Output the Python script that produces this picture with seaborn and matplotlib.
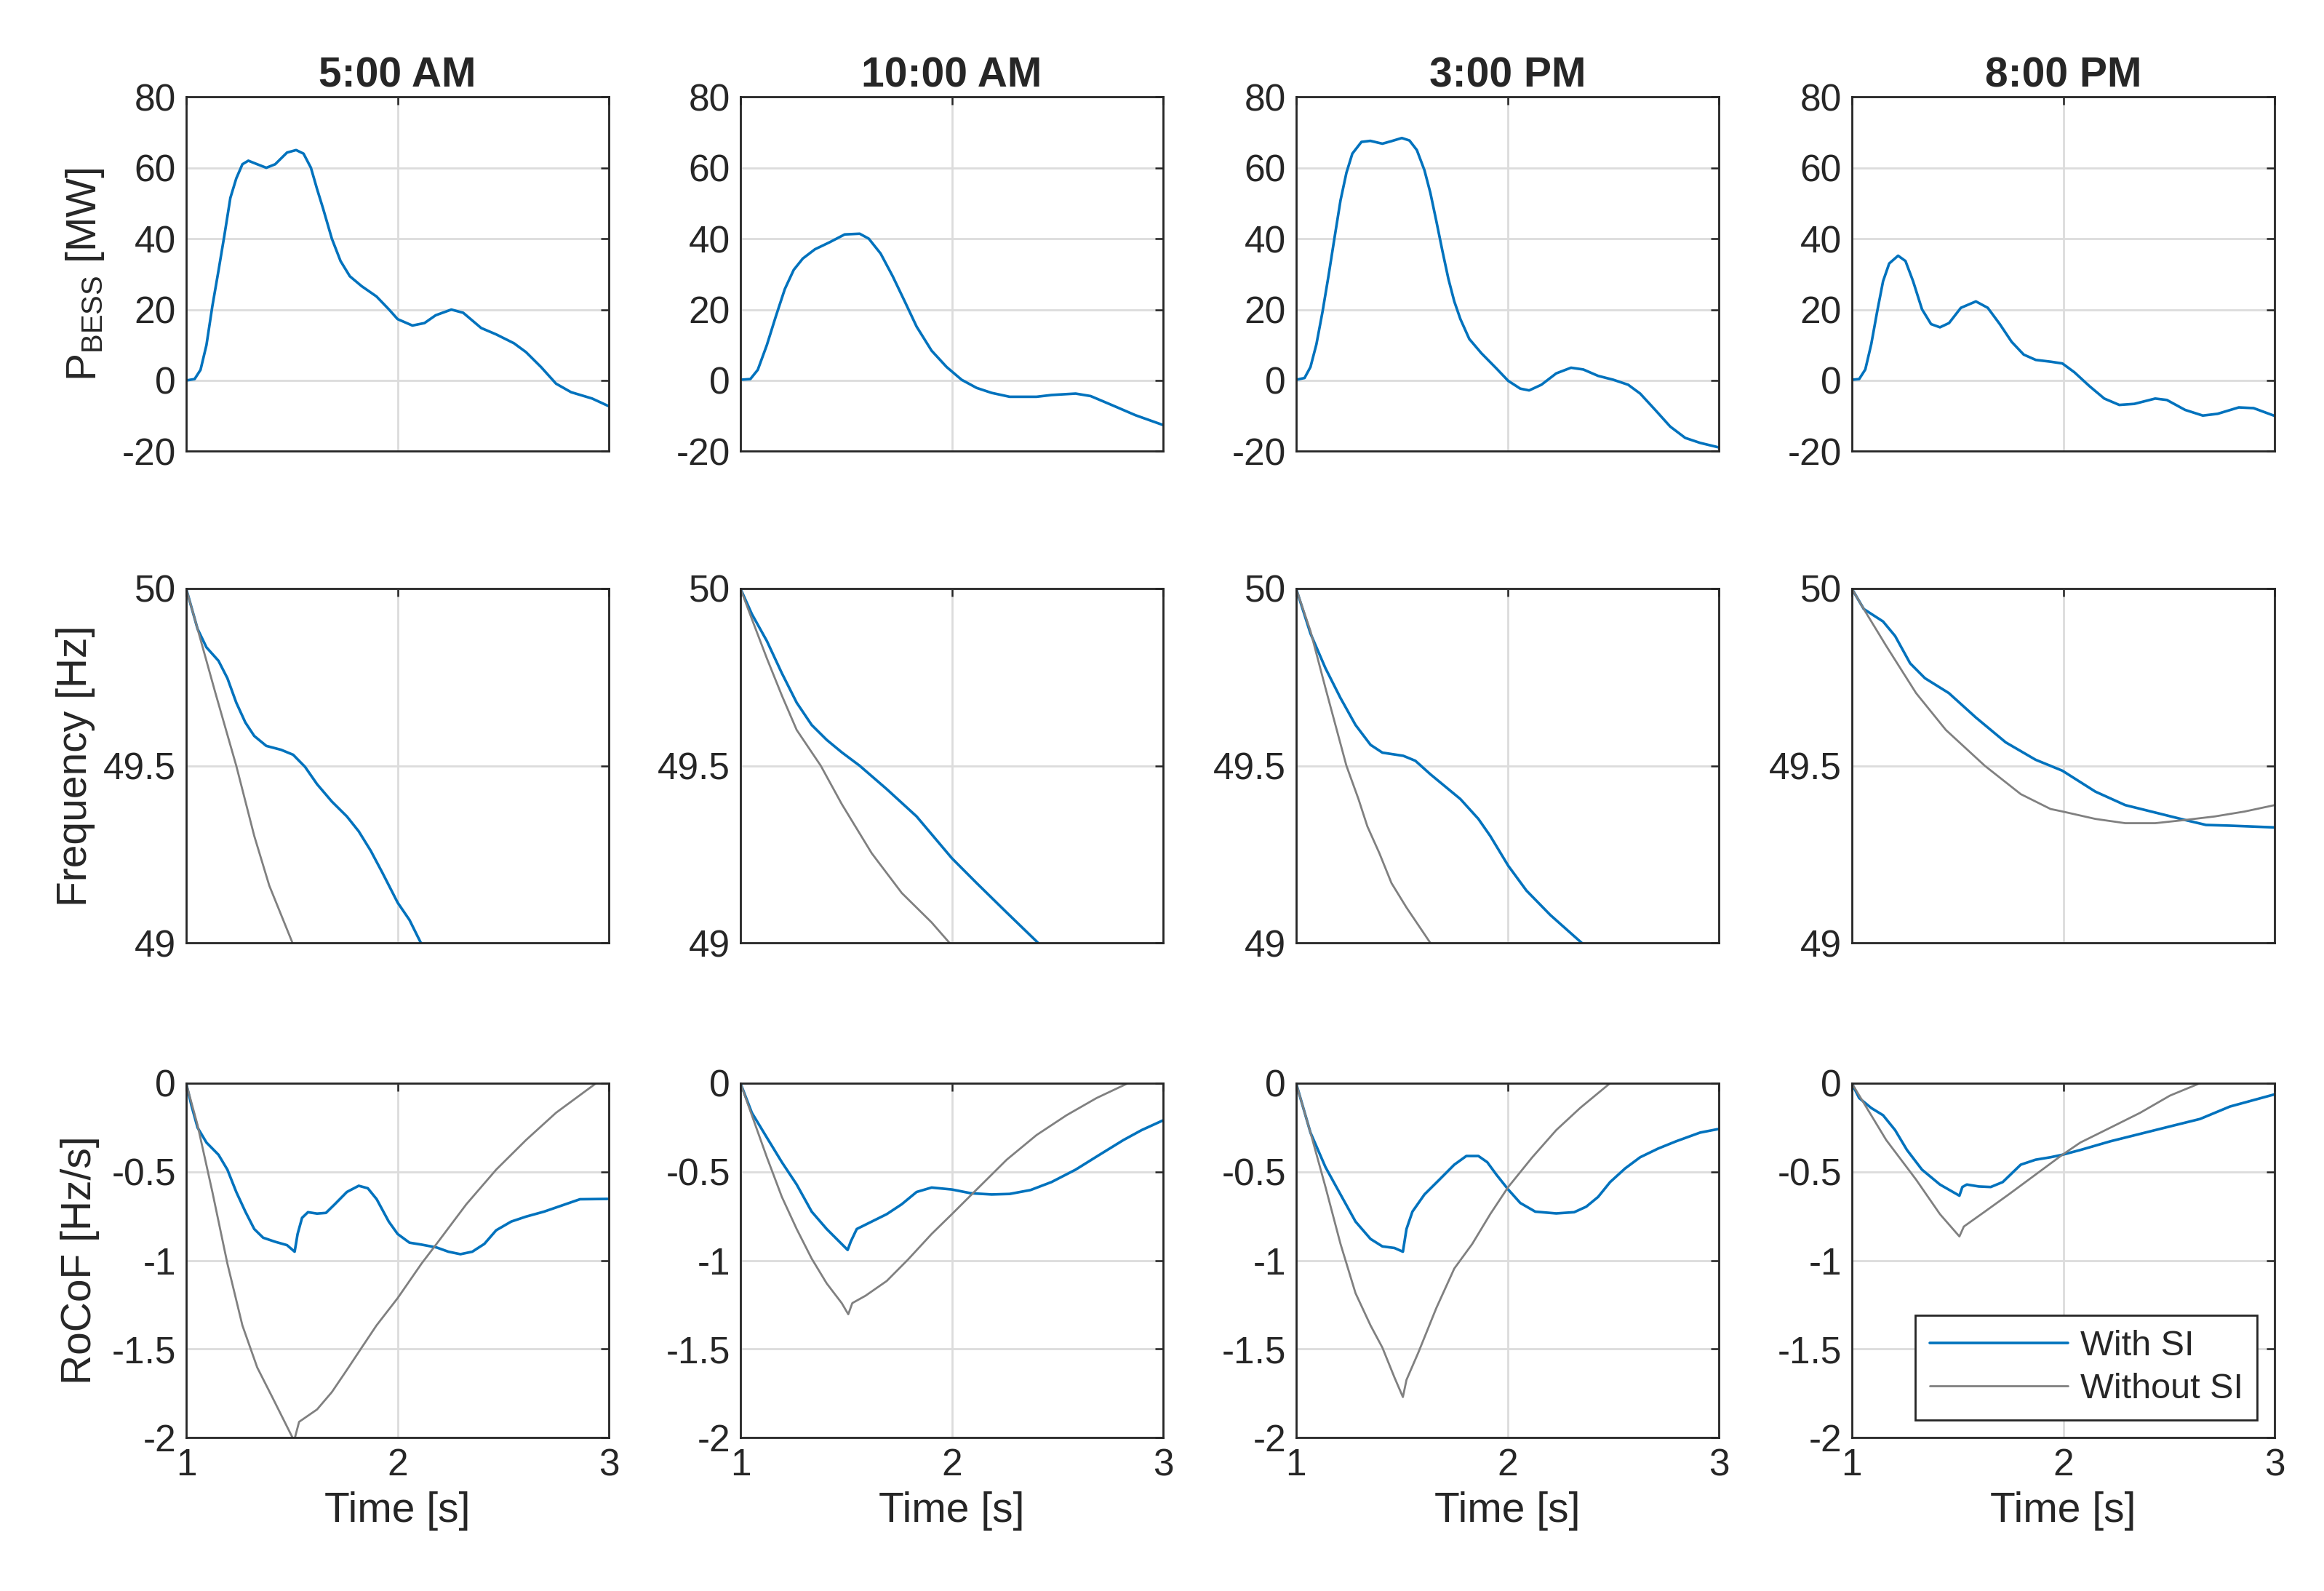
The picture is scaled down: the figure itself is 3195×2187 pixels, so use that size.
import matplotlib
matplotlib.use("Agg")
import matplotlib.pyplot as plt
import seaborn as sns
import pandas as pd

hours = ["5:00 AM", "10:00 AM", "3:00 PM", "8:00 PM"]

# BESS power [MW] (with SI only), (time s, value)
p_0500 = [(1.0, 0), (1.04, 0.4), (1.068, 3), (1.096, 10), (1.124, 21), (1.153, 31), (1.181, 41),
          (1.209, 51.5), (1.237, 57), (1.266, 61), (1.294, 62), (1.336, 61), (1.379, 60), (1.421, 61),
          (1.477, 64.3), (1.52, 65), (1.555, 64), (1.59, 60), (1.619, 54), (1.647, 48.6), (1.689, 40),
          (1.73, 33.7), (1.774, 29.4), (1.83, 26.6), (1.9, 23.7), (1.958, 20.1), (2.0, 17.3),
          (2.07, 15.5), (2.127, 16.2), (2.18, 18.4), (2.254, 20), (2.31, 19.1), (2.395, 14.8),
          (2.466, 13), (2.55, 10.5), (2.607, 8), (2.678, 3.8), (2.749, -0.9), (2.82, -3.3),
          (2.92, -5.1), (3.0, -7.3)]
p_1000 = [(1.0, 0.2), (1.047, 0.4), (1.082, 3), (1.125, 10), (1.167, 18), (1.21, 25.8), (1.252, 31.2),
          (1.295, 34.4), (1.352, 37), (1.422, 39), (1.493, 41.2), (1.564, 41.4), (1.607, 40),
          (1.663, 35.8), (1.72, 29.4), (1.777, 22.3), (1.833, 15.2), (1.904, 8.4), (1.975, 3.8),
          (2.046, 0.2), (2.117, -2.1), (2.188, -3.5), (2.273, -4.6), (2.4, -4.6), (2.471, -4.1),
          (2.585, -3.7), (2.656, -4.4), (2.755, -6.9), (2.868, -9.8), (3.0, -12.6)]
p_1500 = [(1.0, 0.2), (1.04, 0.7), (1.068, 3.8), (1.096, 10.2), (1.125, 19.4), (1.153, 29.4),
          (1.181, 40), (1.21, 50.8), (1.238, 58.6), (1.266, 64), (1.309, 67.3), (1.351, 67.6),
          (1.408, 66.8), (1.45, 67.5), (1.5, 68.4), (1.536, 67.7), (1.571, 65), (1.607, 59.3),
          (1.635, 52.9), (1.663, 45), (1.692, 36.5), (1.72, 28.7), (1.748, 22.3), (1.777, 17.3),
          (1.819, 11.7), (1.876, 7.7), (1.947, 3.4), (2.003, -0.1), (2.06, -2.3), (2.102, -2.8),
          (2.16, -1.2), (2.23, 2.0), (2.3, 3.6), (2.358, 3.1), (2.428, 1.3), (2.5, 0.2), (2.57, -1.2),
          (2.627, -3.7), (2.698, -8.3), (2.769, -13), (2.84, -16.2), (2.91, -17.6), (3.0, -18.9)]
p_2000 = [(1.0, 0.2), (1.035, 0.4), (1.064, 3.1), (1.092, 10.2), (1.12, 19.4), (1.148, 28),
          (1.177, 33), (1.219, 35.2), (1.254, 33.7), (1.29, 28), (1.332, 20.1), (1.375, 15.9),
          (1.417, 15), (1.46, 16.2), (1.516, 20.5), (1.587, 22.3), (1.643, 20.5), (1.7, 15.9),
          (1.756, 10.9), (1.813, 7.3), (1.87, 5.8), (1.94, 5.3), (1.996, 4.8), (2.053, 2.3),
          (2.124, -1.6), (2.194, -5.1), (2.265, -6.9), (2.336, -6.6), (2.435, -5.1), (2.49, -5.5),
          (2.576, -8.3), (2.66, -9.9), (2.73, -9.4), (2.83, -7.6), (2.9, -7.8), (3.0, -10)]

# frequency [Hz]
f_si_0500 = [(1.0, 50.0), (1.054, 49.886), (1.096, 49.834), (1.153, 49.796), (1.195, 49.747),
             (1.237, 49.678), (1.28, 49.622), (1.322, 49.584), (1.379, 49.556), (1.449, 49.545),
             (1.506, 49.531), (1.562, 49.497), (1.619, 49.448), (1.689, 49.399), (1.76, 49.357),
             (1.816, 49.315), (1.873, 49.26), (1.929, 49.197), (2.0, 49.114), (2.056, 49.065),
             (2.11, 49.0), (2.13, 48.97)]
f_no_0500 = [(1.0, 50.0), (1.054, 49.886), (1.138, 49.706), (1.237, 49.5), (1.322, 49.302),
             (1.393, 49.162), (1.503, 49.0), (1.52, 48.97)]
f_si_1000 = [(1.0, 50.0), (1.054, 49.928), (1.125, 49.852), (1.196, 49.761), (1.266, 49.678),
             (1.337, 49.615), (1.408, 49.573), (1.479, 49.538), (1.564, 49.5), (1.692, 49.434),
             (1.833, 49.357), (2.0, 49.239), (2.117, 49.169), (2.259, 49.086), (2.408, 49.0),
             (2.43, 48.98)]
f_no_1000 = [(1.0, 50.0), (1.054, 49.914), (1.125, 49.803), (1.196, 49.698), (1.266, 49.601),
             (1.38, 49.5), (1.479, 49.392), (1.621, 49.253), (1.763, 49.141), (1.904, 49.058),
             (1.989, 49.0), (2.01, 48.98)]
f_si_1500 = [(1.0, 50.0), (1.068, 49.873), (1.139, 49.775), (1.21, 49.691), (1.281, 49.615),
             (1.352, 49.559), (1.408, 49.537), (1.507, 49.528), (1.564, 49.514), (1.635, 49.476),
             (1.777, 49.406), (1.862, 49.35), (1.918, 49.302), (2.003, 49.218), (2.089, 49.148),
             (2.202, 49.079), (2.351, 49.0), (2.37, 48.98)]
f_no_1500 = [(1.0, 50.0), (1.068, 49.88), (1.139, 49.719), (1.238, 49.5), (1.295, 49.406),
             (1.337, 49.329), (1.394, 49.253), (1.451, 49.169), (1.522, 49.1), (1.635, 49.0),
             (1.65, 48.98)]
f_si_2000 = [(1.0, 50.0), (1.057, 49.942), (1.148, 49.907), (1.205, 49.866), (1.276, 49.789),
             (1.346, 49.747), (1.459, 49.705), (1.587, 49.636), (1.728, 49.566), (1.869, 49.517),
             (1.996, 49.486), (2.152, 49.427), (2.293, 49.389), (2.435, 49.368), (2.576, 49.347),
             (2.675, 49.333), (2.788, 49.331), (3.0, 49.326)]
f_no_2000 = [(1.0, 50.0), (1.064, 49.935), (1.163, 49.838), (1.304, 49.705), (1.445, 49.601),
             (1.629, 49.5), (1.799, 49.42), (1.94, 49.378), (1.996, 49.371), (2.152, 49.35),
             (2.293, 49.338), (2.435, 49.338), (2.576, 49.347), (2.717, 49.357), (2.859, 49.371),
             (3.0, 49.389)]

# RoCoF [Hz/s]
r_si_0500 = [(1.0, 0.0), (1.025, -0.126), (1.054, -0.251), (1.096, -0.335), (1.153, -0.404),
             (1.195, -0.488), (1.237, -0.614), (1.28, -0.725), (1.322, -0.823), (1.364, -0.872),
             (1.421, -0.895), (1.477, -0.914), (1.513, -0.951), (1.527, -0.851), (1.548, -0.76),
             (1.576, -0.728), (1.619, -0.736), (1.661, -0.732), (1.703, -0.683), (1.76, -0.614),
             (1.816, -0.579), (1.859, -0.593), (1.901, -0.655), (1.958, -0.781), (2.0, -0.851),
             (2.056, -0.9), (2.113, -0.911), (2.184, -0.927), (2.24, -0.951), (2.297, -0.965),
             (2.353, -0.951), (2.41, -0.907), (2.466, -0.83), (2.537, -0.781), (2.607, -0.753),
             (2.692, -0.725), (2.777, -0.69), (2.862, -0.655), (3.0, -0.653)]
r_no_0500 = [(1.0, 0.0), (1.054, -0.237), (1.124, -0.614), (1.195, -1.018), (1.266, -1.367),
             (1.336, -1.604), (1.407, -1.771), (1.503, -2.0), (1.51, -2.02), (1.534, -1.911),
             (1.619, -1.841), (1.689, -1.743), (1.76, -1.618), (1.83, -1.492), (1.9, -1.367),
             (2.0, -1.213), (2.113, -1.018), (2.184, -0.907), (2.325, -0.683), (2.466, -0.488),
             (2.607, -0.321), (2.749, -0.167), (2.939, 0.0), (3.0, 0.05)]
r_si_1000 = [(1.0, 0.0), (1.054, -0.167), (1.125, -0.307), (1.196, -0.446), (1.266, -0.572),
             (1.337, -0.725), (1.408, -0.823), (1.507, -0.941), (1.522, -0.893), (1.55, -0.823),
             (1.621, -0.781), (1.692, -0.739), (1.763, -0.683), (1.833, -0.614), (1.904, -0.589),
             (2.0, -0.6), (2.089, -0.621), (2.188, -0.628), (2.273, -0.625), (2.372, -0.603),
             (2.471, -0.558), (2.585, -0.488), (2.698, -0.404), (2.811, -0.321), (2.897, -0.265),
             (3.0, -0.209)]
r_no_1000 = [(1.0, 0.0), (1.054, -0.181), (1.125, -0.418), (1.196, -0.642), (1.266, -0.823),
             (1.337, -0.99), (1.408, -1.13), (1.479, -1.241), (1.51, -1.304), (1.529, -1.241),
             (1.592, -1.199), (1.692, -1.116), (1.791, -0.997), (1.904, -0.851), (2.0, -0.739),
             (2.117, -0.6), (2.259, -0.432), (2.4, -0.293), (2.542, -0.181), (2.684, -0.084),
             (2.833, 0.0), (3.0, 0.08)]
r_si_1500 = [(1.0, 0.0), (1.068, -0.279), (1.139, -0.474), (1.21, -0.628), (1.281, -0.781),
             (1.352, -0.879), (1.408, -0.921), (1.465, -0.93), (1.505, -0.951), (1.522, -0.823),
             (1.55, -0.725), (1.607, -0.628), (1.678, -0.544), (1.748, -0.46), (1.805, -0.411),
             (1.862, -0.411), (1.904, -0.446), (1.947, -0.516), (2.003, -0.6), (2.06, -0.676),
             (2.131, -0.725), (2.23, -0.735), (2.315, -0.728), (2.372, -0.697), (2.428, -0.642),
             (2.485, -0.558), (2.556, -0.481), (2.627, -0.418), (2.712, -0.369), (2.797, -0.328),
             (2.91, -0.279), (3.0, -0.258)]
r_no_1500 = [(1.0, 0.0), (1.068, -0.279), (1.139, -0.586), (1.21, -0.907), (1.281, -1.185),
             (1.352, -1.367), (1.408, -1.492), (1.465, -1.66), (1.505, -1.771), (1.522, -1.674),
             (1.578, -1.52), (1.663, -1.269), (1.748, -1.046), (1.833, -0.907), (1.918, -0.739),
             (2.003, -0.586), (2.117, -0.418), (2.23, -0.265), (2.344, -0.139), (2.485, 0.0),
             (2.6, 0.15)]
r_si_2000 = [(1.0, 0.0), (1.035, -0.084), (1.092, -0.14), (1.148, -0.181), (1.205, -0.265),
             (1.261, -0.377), (1.332, -0.488), (1.417, -0.572), (1.509, -0.635), (1.523, -0.586),
             (1.544, -0.572), (1.601, -0.583), (1.657, -0.586), (1.714, -0.558), (1.799, -0.46),
             (1.869, -0.432), (1.94, -0.418), (1.996, -0.404), (2.081, -0.377), (2.223, -0.328),
             (2.364, -0.286), (2.505, -0.244), (2.647, -0.202), (2.788, -0.132), (3.0, -0.063)]
r_no_2000 = [(1.0, 0.0), (1.064, -0.126), (1.163, -0.321), (1.304, -0.544), (1.417, -0.739),
             (1.509, -0.865), (1.53, -0.809), (1.629, -0.725), (1.742, -0.628), (1.869, -0.516),
             (1.996, -0.404), (2.081, -0.335), (2.223, -0.251), (2.364, -0.167), (2.505, -0.07),
             (2.647, 0.0), (2.788, 0.045)]

power_rows = [p_0500, p_1000, p_1500, p_2000]
freq_si = [f_si_0500, f_si_1000, f_si_1500, f_si_2000]
freq_no = [f_no_0500, f_no_1000, f_no_1500, f_no_2000]
rocof_si = [r_si_0500, r_si_1000, r_si_1500, r_si_2000]
rocof_no = [r_no_0500, r_no_1000, r_no_1500, r_no_2000]

BLUE = "#0072BD"
GRAY = "#808080"

sns.set_theme(style="white")
plt.rcParams["font.family"] = ["Liberation Sans", "DejaVu Sans"]
plt.rcParams["mathtext.fontset"] = "custom"
plt.rcParams["mathtext.rm"] = "Liberation Sans"
plt.rcParams["axes.unicode_minus"] = False


def draw(ax, pairs, color, lw):
    df = pd.DataFrame(pairs, columns=["t", "v"])
    sns.lineplot(data=df, x="t", y="v", ax=ax, color=color, linewidth=lw,
                 estimator=None, sort=False, legend=False)


fig = plt.figure(figsize=(15.975, 10.935), dpi=200)
lefts = [0.0801, 0.3186, 0.5577, 0.7968]
bottoms = [0.7163, 0.4073, 0.0964]
w, h = 0.182, 0.2228

row_specs = [
    ((-20, 80), [-20, 0, 20, 40, 60, 80], ["-20", "0", "20", "40", "60", "80"], r"P$_{\mathrm{BESS}}$ [MW]"),
    ((49, 50), [49, 49.5, 50], ["49", "49.5", "50"], "Frequency [Hz]"),
    ((-2, 0), [-2, -1.5, -1, -0.5, 0], ["-2", "-1.5", "-1", "-0.5", "0"], "RoCoF [Hz/s]"),
]
label_pads = [8, 4, 6]

axes = []
for r in range(3):
    for c in range(4):
        ax = fig.add_axes([lefts[c], bottoms[r], w, h])
        if r == 0:
            draw(ax, power_rows[c], BLUE, 1.3)
        elif r == 1:
            draw(ax, freq_si[c], BLUE, 1.3)
            draw(ax, freq_no[c], GRAY, 1.0)
        else:
            draw(ax, rocof_si[c], BLUE, 1.3)
            draw(ax, rocof_no[c], GRAY, 1.0)

        ylim, yt, ytl, ylab = row_specs[r]
        ax.set_xlim(1, 3)
        ax.set_ylim(*ylim)
        ax.set_xticks([1, 2, 3])
        ax.set_yticks(yt)
        ax.set_yticklabels(ytl)
        if r == 2:
            ax.set_xticklabels(["1", "2", "3"])
            ax.set_xlabel("Time [s]", fontsize=20.5)
        else:
            ax.set_xticklabels([])
            ax.set_xlabel("")
        if c == 0:
            ax.set_ylabel(ylab, fontsize=20.5, labelpad=label_pads[r])
        else:
            ax.set_ylabel("")
        if r == 0:
            ax.set_title(hours[c], fontsize=20.5, fontweight="bold", pad=5)

        ax.grid(True, color="#dcdcdc", linewidth=1.0)
        ax.set_axisbelow(True)
        ax.tick_params(direction="in", top=True, right=True, length=4, width=0.9,
                       labelsize=18.5, colors="#262626", pad=5)
        for s in ax.spines.values():
            s.set_color("#262626")
            s.set_linewidth(1.0)
        axes.append(ax)

leg_ax = axes[11]
leg = leg_ax.legend(leg_ax.lines, ["With SI", "Without SI"], loc="lower right",
                    fontsize=17.5, frameon=True, fancybox=False, edgecolor="#262626",
                    framealpha=1, handlelength=3.9, borderaxespad=0.5, labelspacing=0.3,
                    handletextpad=0.35, borderpad=0.4)
leg.get_frame().set_linewidth(1.0)

fig.savefig("out.png", dpi=200, facecolor="white")
